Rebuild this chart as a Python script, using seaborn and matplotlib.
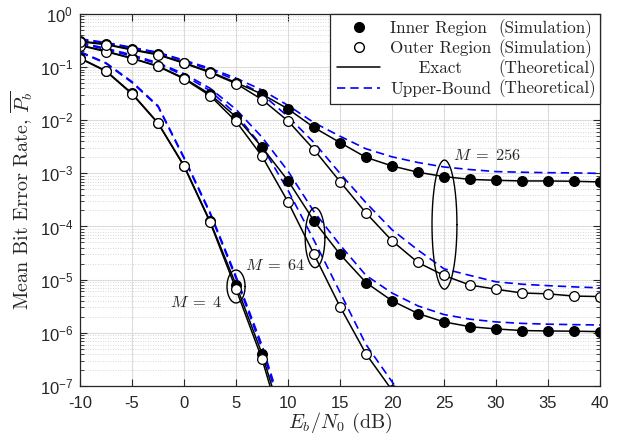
import numpy as np
import pandas as pd
import matplotlib
matplotlib.use("Agg")
import matplotlib.pyplot as plt
import seaborn as sns
from matplotlib.lines import Line2D
from matplotlib.ticker import LogLocator, NullFormatter

# DATA
ebno = [-10, -7.5, -5, -2.5, 0, 2.5, 5, 7.5, 10, 12.5, 15, 17.5, 20,
        22.5, 25, 27.5, 30, 32.5, 35, 37.5, 40]
nan = np.nan

# exact curves (simulation markers sit on them)
m4_inner = [0.148, 0.085, 0.032, 0.0089, 1.4e-3, 1.26e-4, 8.0e-6, 4.0e-7, 1e-8,
            nan, nan, nan, nan, nan, nan, nan, nan, nan, nan, nan, nan]
m4_outer = [0.145, 0.083, 0.031, 0.0087, 1.35e-3, 1.2e-4, 6.6e-6, 3.2e-7, 7e-9,
            nan, nan, nan, nan, nan, nan, nan, nan, nan, nan, nan, nan]
m64_inner = [0.26, 0.20, 0.147, 0.105, 0.062, 0.031, 0.0115, 3.1e-3, 7.3e-4, 1.27e-4,
             3.0e-5, 8.8e-6, 4.0e-6, 2.3e-6, 1.6e-6, 1.3e-6, 1.18e-6, 1.1e-6,
             1.08e-6, 1.07e-6, 1.05e-6]
m64_outer = [0.255, 0.195, 0.145, 0.103, 0.060, 0.029, 0.0095, 2.1e-3, 2.9e-4, 3.0e-5,
             3.1e-6, 4.0e-7, 8.3e-8, nan, nan, nan, nan, nan, nan, nan, nan]
m256_inner = [0.31, 0.27, 0.216, 0.174, 0.121, 0.082, 0.051, 0.031, 0.0163, 0.0073,
              3.8e-3, 2.0e-3, 1.38e-3, 1.05e-3, 8.7e-4, 7.7e-4, 7.4e-4, 7.2e-4,
              7.2e-4, 7.1e-4, 6.9e-4]
m256_outer = [0.30, 0.265, 0.21, 0.17, 0.118, 0.079, 0.049, 0.0245, 0.0097, 2.8e-3,
              7.0e-4, 1.8e-4, 5.4e-5, 2.1e-5, 1.2e-5, 7.9e-6, 6.6e-6, 5.6e-6,
              5.4e-6, 4.9e-6, 4.8e-6]

# upper bounds
m4_inner_ub = [0.195, 0.12, 0.053, 0.0186, 2.0e-3, 1.85e-4, 1.15e-5, 5.8e-7, 1.6e-8,
               nan, nan, nan, nan, nan, nan, nan, nan, nan, nan, nan, nan]
m4_outer_ub = [0.19, 0.117, 0.051, 0.018, 1.9e-3, 1.75e-4, 1.05e-5, 5.0e-7, 1.3e-8,
               nan, nan, nan, nan, nan, nan, nan, nan, nan, nan, nan, nan]
m64_inner_ub = [0.29, 0.225, 0.17, 0.12, 0.075, 0.04, 0.016, 4.8e-3, 1.1e-3, 1.9e-4,
                4.5e-5, 1.2e-5, 5.6e-6, 3.2e-6, 2.2e-6, 1.8e-6, 1.6e-6, 1.5e-6,
                1.45e-6, 1.42e-6, 1.4e-6]
m64_outer_ub = [0.28, 0.215, 0.16, 0.115, 0.07, 0.036, 0.013, 3.2e-3, 4.8e-4, 5.5e-5,
                5.8e-6, 6.0e-7, 1.2e-7, 2.5e-8, nan, nan, nan, nan, nan, nan, nan]
m256_inner_ub = [0.34, 0.29, 0.235, 0.19, 0.135, 0.095, 0.062, 0.037, 0.019, 9.0e-3,
                 5.0e-3, 2.9e-3, 2.05e-3, 1.6e-3, 1.32e-3, 1.18e-3, 1.08e-3, 1.05e-3,
                 1.03e-3, 1.02e-3, 1.0e-3]
m256_outer_ub = [0.33, 0.285, 0.23, 0.185, 0.13, 0.09, 0.057, 0.031, 0.0117, 3.8e-3,
                 1.0e-3, 2.8e-4, 8.7e-5, 3.6e-5, 1.6e-5, 1.2e-5, 9.1e-6, 8.2e-6,
                 7.7e-6, 7.3e-6, 7.0e-6]

# ellipse annotations: (x centre, log10 y centre, x half width, decades half height)
ellipses = [(5.0, -5.13, 0.87, 0.31), (12.6, -4.21, 0.95, 0.565), (25.05, -3.965, 1.2, 1.215)]
m_labels = [r"$M\;=\;4$", r"$M\;=\;64$", r"$M\;=\;256$"]
m_label_pos = [(3.7, 10**-5.44, "right"), (5.9, 10**-4.74, "left"), (25.9, 10**-2.67, "left")]

# STYLE
sns.set_style("ticks")
plt.rcParams["font.family"] = ["Liberation Sans", "DejaVu Sans"]
plt.rcParams["mathtext.fontset"] = "cm"
plt.rcParams["axes.unicode_minus"] = False
serif = "cmr10"

fig = plt.figure(figsize=(6.21, 4.37), dpi=100)
ax = fig.add_axes([0.129, 0.117, 0.837, 0.851])

exact = [m4_inner, m4_outer, m64_inner, m64_outer, m256_inner, m256_outer]
bounds = [m4_inner_ub, m4_outer_ub, m64_inner_ub, m64_outer_ub, m256_inner_ub, m256_outer_ub]
filled = [True, False, True, False, True, False]

for yb in bounds:
    sns.lineplot(x=ebno, y=yb, ax=ax, color="#0000ff", lw=1.2, dashes=False,
                 linestyle=(0, (5, 3)), sort=False)
for ye, f in zip(exact, filled):
    sns.lineplot(x=ebno, y=ye, ax=ax, color="black", lw=1.1, sort=False,
                 marker="o", markersize=7, markeredgecolor="black",
                 markerfacecolor="black" if f else "white", markeredgewidth=0.9)

# ellipses and M labels
t = np.linspace(0, 2 * np.pi, 200)
for (xc, lc, a, b) in ellipses:
    ax.plot(xc + a * np.cos(t), 10 ** (lc + b * np.sin(t)), color="black", lw=1.0)
for lab, (lx, ly, ha) in zip(m_labels, m_label_pos):
    ax.text(lx, ly, lab, fontsize=11.8, ha=ha, va="center")

ax.set_yscale("log")
ax.set_xlim(-10, 40)
ax.set_ylim(1e-7, 1)
ax.set_xticks(np.arange(-10, 41, 5))
ax.yaxis.set_major_locator(LogLocator(base=10, numticks=10))
ax.yaxis.set_minor_locator(LogLocator(base=10, subs=np.arange(2, 10), numticks=100))
ax.yaxis.set_minor_formatter(NullFormatter())
ax.tick_params(axis="both", which="both", direction="in", top=True, right=True,
               labelsize=12, colors="#262626")
ax.tick_params(axis="x", which="major", pad=7)
ax.tick_params(axis="y", which="major", pad=5)
ax.tick_params(which="major", length=5, width=0.8)
ax.tick_params(which="minor", length=3, width=0.6)
ax.grid(True, which="major", color="#dcdcdc", lw=0.8, ls="-")
ax.grid(True, which="minor", axis="y", color="#cccccc", lw=0.6, ls=(0, (1, 2)))
ax.set_axisbelow(True)
for sp in ax.spines.values():
    sp.set_color("#262626")
    sp.set_linewidth(0.9)

ax.set_xlabel("$E_b/N_0$ (dB)", fontsize=14.5, family=serif, labelpad=0)
ax.set_ylabel("Mean Bit Error Rate, $\\overline{P_b}$", fontsize=14.5, family=serif, labelpad=3)

# legend: handles + description, source column added beside each entry
handles = [Line2D([], [], ls="none", marker="o", ms=7, mfc="black", mec="black"),
           Line2D([], [], ls="none", marker="o", ms=7, mfc="white", mec="black"),
           Line2D([], [], color="black", lw=1.1),
           Line2D([], [], color="#0000ff", lw=1.2, ls=(0, (5, 3)))]
left_labels = ["Inner Region", "Outer Region", "     Exact", "Upper-Bound"]
right_labels = ["(Simulation)", "(Simulation)", "(Theoretical)", "(Theoretical)"]
leg_left = (330 - 80) / 520
leg = ax.legend(handles, left_labels, loc="upper right", mode="expand",
                bbox_to_anchor=(leg_left, 0, 1 - leg_left, 1),
                borderaxespad=0, handlelength=2.5, handletextpad=0.6,
                labelspacing=0.27, borderpad=0.42, fancybox=False, framealpha=1,
                edgecolor="#262626", prop={"family": serif, "size": 12.3})
leg.get_frame().set_linewidth(0.9)
right_x = (498 - 80) / 520
for txt, lab in zip(leg.get_texts(), right_labels):
    ax.annotate(lab, xy=(right_x, 0.5), xycoords=("axes fraction", txt),
                ha="left", va="center", family=serif, fontsize=12.3, zorder=10,
                annotation_clip=False)

fig.savefig("out.png", dpi=100)
